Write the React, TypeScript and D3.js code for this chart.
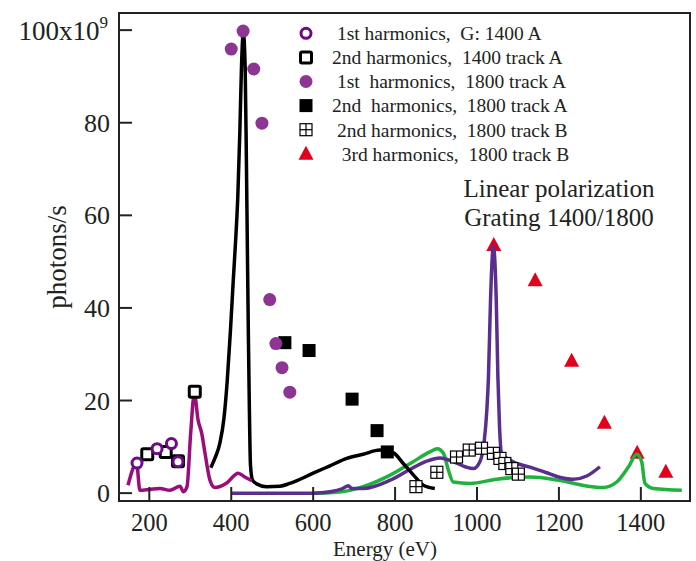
import React from 'react';
import * as d3 from 'd3';

const W = 696;
const H = 561;
const FONT = '"Liberation Serif", "Times New Roman", serif';

// scatter series: [energy eV, photons/s in 1e9]
const h1Grating1400A: [number, number][] = [[170, 6.5], [219, 9.6], [254, 10.7], [270, 6.8]];
const h2Track1400A: [number, number][] = [[195, 8.4], [240, 8.9], [270, 6.9], [311, 21.9]];
const h1Track1800A: [number, number][] = [
  [400, 95.9], [429, 99.8], [455, 91.6], [475, 79.9], [494, 41.8], [509, 32.3], [524, 27.1], [543, 21.8],
];
const h2Track1800A: [number, number][] = [[531, 32.5], [590, 30.8], [695, 20.3], [756, 13.5], [781, 8.9]];
const h2Track1800B: [number, number][] = [
  [851, 1.4], [902, 4.5], [950, 7.8], [981, 9.3], [1011, 9.7], [1040, 8.6], [1056, 7.5], [1068, 6.4], [1085, 5.3], [1101, 4.1],
];
const h3Track1800B: [number, number][] = [
  [1041, 53.6], [1142, 46], [1231, 28.6], [1311, 15.2], [1391, 8.7], [1461, 4.6],
];

// measured curves
const curveMagenta: [number, number][] = [
  [148, 1.7], [169, 6.4], [177, 0.6], [201, 0.8], [226, 1.0], [250, 0.6], [275, 1.5], [283, 0.3], [292, 1.4],
  [301, 13], [310, 21.5], [319, 15.8], [328, 12.9], [336, 8.6], [348, 2.8], [360, 1.2], [389, 2.2], [417, 4.3],
  [433, 3.5], [450, 2.7],
];
const curveBlack: [number, number][] = [
  [350, 5.5], [360, 7.5], [372, 10.7], [382, 16], [390, 24], [398, 35], [405, 46], [411, 55], [416, 64],
  [421, 78], [425, 92], [429.5, 99.5], [434, 92], [437, 72], [439.5, 52], [442, 33], [444, 20], [447, 6],
  [452, 2.8], [462, 2.0], [486, 1.4], [519, 1.5], [543, 2.1], [600, 4.3], [641, 5.9], [682, 7.5], [722, 8.4],
  [763, 9.3], [796, 8.7], [820, 6.4], [845, 3.9], [869, 1.7], [897, 1.0],
];
const curveIndigo: [number, number][] = [
  [400, 0], [600, 0], [641, 0.3], [672, 1.0], [686, 1.6], [694, 1.0], [722, 1.0], [788, 2.8], [836, 5.1],
  [877, 6.9], [910, 7.6], [942, 6.8], [971, 5.7], [991, 5.3], [1007, 6.8], [1017, 10.7], [1024, 17.9],
  [1028, 25.1], [1033, 41.7], [1040, 53.3], [1047, 41.7], [1051, 25.1], [1055, 14.3], [1060, 8.6],
  [1081, 7.1], [1129, 5.6], [1170, 4.4], [1195, 3.6], [1235, 3.0], [1268, 3.7], [1300, 5.7],
];
const curveGreen: [number, number][] = [
  [600, 0], [641, 0.1], [690, 0.6], [722, 1.4], [788, 3.9], [844, 6.8], [885, 8.9], [903, 9.6], [918, 8.6],
  [930, 5.0], [942, 2.4], [983, 2.1], [1048, 3.0], [1129, 3.5], [1154, 3.4], [1211, 2.6], [1252, 1.8],
  [1308, 1.2], [1341, 2.4], [1370, 5.7], [1390, 8.4], [1402, 6.8], [1410, 2.1], [1431, 1.0], [1500, 0.6],
];

const xTicks = [200, 400, 600, 800, 1000, 1200, 1400];
const yTicks = [0, 20, 40, 60, 80, 100];

const legendLabels = [
  ' 1st harmonics,  G: 1400 A',
  '2nd harmonics,  1400 track A',
  ' 1st  harmonics,  1800 track A',
  '2nd  harmonics,  1800 track A',
  ' 2nd harmonics,  1800 track B',
  '  3rd harmonics,  1800 track B',
];
const legendKinds = ['openCircle', 'openSquare', 'dot', 'square', 'crossSquare', 'triangle'];

const PURPLE_OPEN = '#6c0a87';
const PURPLE_DOT = '#8d3592';
const MAGENTA = '#9c0d7c';
const INDIGO = '#5a2e8e';
const GREEN = '#1fb23c';
const RED = '#e2001c';
const INK = '#222';

const Marker: React.FC<{ kind: string; x: number; y: number }> = ({ kind, x, y }) => {
  switch (kind) {
    case 'openCircle':
      return <circle cx={x} cy={y} r={5} fill="white" stroke={PURPLE_OPEN} strokeWidth={3} />;
    case 'openSquare':
      return <rect x={x - 5.5} y={y - 5.5} width={11} height={11} rx={1.5} fill="white" stroke="black" strokeWidth={3} />;
    case 'dot':
      return <circle cx={x} cy={y} r={6.5} fill={PURPLE_DOT} />;
    case 'square':
      return <rect x={x - 6.5} y={y - 6.5} width={13} height={13} fill="black" />;
    case 'crossSquare':
      return (
        <g stroke="black" strokeWidth={1.2} fill="white">
          <rect x={x - 6} y={y - 6} width={12} height={12} />
          <line x1={x} x2={x} y1={y - 6} y2={y + 6} />
          <line x1={x - 6} x2={x + 6} y1={y} y2={y} />
        </g>
      );
    default:
      return <path d={`M${x},${y - 8} L${x + 7.5},${y + 6} L${x - 7.5},${y + 6} Z`} fill={RED} />;
  }
};

export default function App() {
  const x = d3.scaleLinear().domain([126, 1520]).range([119, 690]);
  const y = d3.scaleLinear().domain([-1.7, 103.7]).range([501, 13]);
  const line = d3
    .line<[number, number]>()
    .x((d) => x(d[0]))
    .y((d) => y(d[1]))
    .curve(d3.curveMonotoneX);

  const [left, right] = x.range();
  const [bottom, top] = y.range();

  const curves: [[number, number][], string][] = [
    [curveGreen, GREEN],
    [curveIndigo, INDIGO],
    [curveBlack, 'black'],
    [curveMagenta, MAGENTA],
  ];

  const scatter: [[number, number][], string][] = [
    [h2Track1800B, 'crossSquare'],
    [h2Track1800A, 'square'],
    [h1Track1800A, 'dot'],
    [h2Track1400A, 'openSquare'],
    [h1Grating1400A, 'openCircle'],
  ];

  return (
    <svg
      width={W}
      height={H}
      style={{ position: 'absolute', left: 0, top: 0, background: 'white' }}
      fontFamily={FONT}
    >
      {/* 3rd harmonic triangles sit under the curves */}
      {h3Track1800B.map((d, i) => (
        <Marker key={'t' + i} kind="triangle" x={x(d[0])} y={y(d[1])} />
      ))}

      {curves.map(([data, color], i) => (
        <path key={'c' + i} d={line(data) ?? ''} fill="none" stroke={color} strokeWidth={3.5} strokeLinejoin="round" />
      ))}

      {scatter.map(([data, kind]) =>
        data.map((d, i) => <Marker key={kind + i} kind={kind} x={x(d[0])} y={y(d[1])} />)
      )}

      {/* frame */}
      <rect x={left} y={top} width={right - left} height={bottom - top} fill="none" stroke={INK} strokeWidth={2} />

      {/* y axis */}
      {yTicks.map((t) => (
        <g key={'y' + t}>
          <line x1={left} x2={left + 13} y1={y(t)} y2={y(t)} stroke={INK} strokeWidth={2} />
          {t === 100 ? (
            <text x={left - 11} y={y(t)} dy="0.35em" textAnchor="end" fontSize={27} fill={INK}>
              100x10
              <tspan dy={-12} fontSize={17}>9</tspan>
            </text>
          ) : (
            <text x={left - 9} y={y(t)} dy="0.35em" textAnchor="end" fontSize={26} fill={INK}>
              {t}
            </text>
          )}
        </g>
      ))}

      {/* x axis */}
      {xTicks.map((t) => (
        <g key={'x' + t}>
          <line x1={x(t)} x2={x(t)} y1={bottom} y2={bottom - 14} stroke={INK} strokeWidth={2} />
          <text x={x(t)} y={531} textAnchor="middle" fontSize={24.5} fill={INK}>
            {t}
          </text>
        </g>
      ))}

      <text x={385} y={556} textAnchor="middle" fontSize={21} fill={INK}>
        Energy (eV)
      </text>
      <text transform="translate(66,257) rotate(-90)" textAnchor="middle" fontSize={27} fill={INK}>
        photons/s
      </text>

      {/* legend */}
      {legendLabels.map((label, i) => {
        const ly = 33.3 + i * 24.1;
        return (
          <g key={'l' + i}>
            <Marker kind={legendKinds[i]} x={306} y={ly} />
            <text x={332} y={ly} dy="0.35em" fontSize={19.5} fill={INK} style={{ whiteSpace: 'pre' }}>
              {label}
            </text>
          </g>
        );
      })}

      <text x={559} y={197} textAnchor="middle" fontSize={25} fill={INK}>
        Linear polarization
      </text>
      <text x={559} y={226} textAnchor="middle" fontSize={25} fill={INK}>
        Grating 1400/1800
      </text>
    </svg>
  );
}
